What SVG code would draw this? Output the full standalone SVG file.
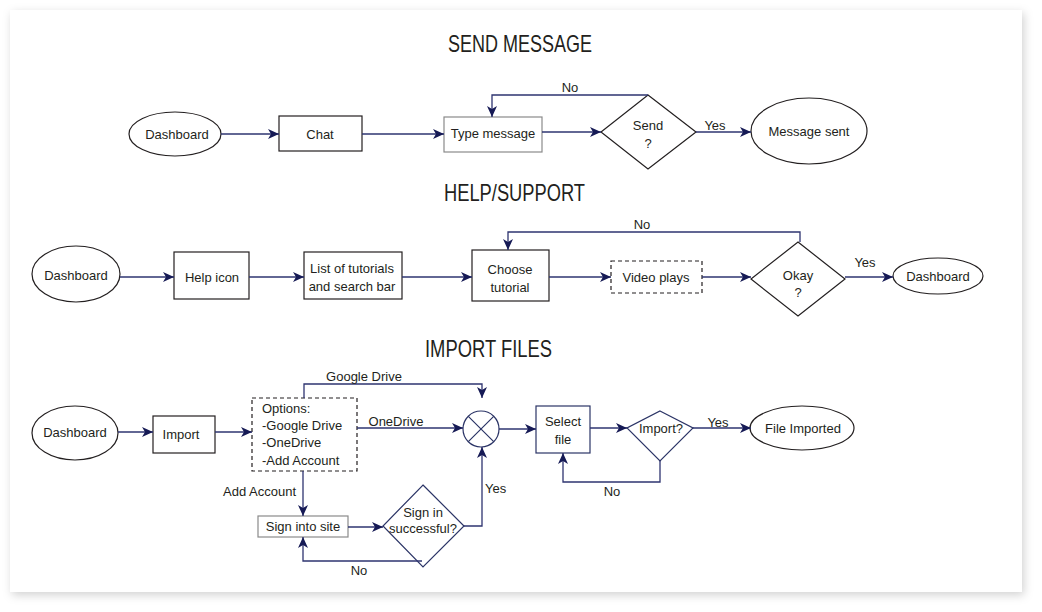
<svg xmlns="http://www.w3.org/2000/svg" width="1042" height="612" viewBox="0 0 1042 612">
<style>
text{font-family:"Liberation Sans",Arial,sans-serif;font-size:13px;fill:#231f20;text-anchor:middle}
.title{font-size:24px}
.lft{text-anchor:start}
.rgt{text-anchor:end}
.node{fill:#fff;stroke:#231f20;stroke-width:1.2}
.gray{fill:#fff;stroke:#8a8a8a;stroke-width:1.2}
.navy{fill:#fff;stroke:#2b3466;stroke-width:1.2}
.dash{fill:#fff;stroke:#231f20;stroke-width:1.2;stroke-dasharray:4 3}
.conn path{fill:none;stroke:#2e3470;stroke-width:1.3;marker-end:url(#arr)}
.conn path.plain{marker-end:none}
</style>
<defs>
<marker id="arr" markerUnits="userSpaceOnUse" markerWidth="12" markerHeight="10" refX="11" refY="5" orient="auto">
<path d="M0,0 L11,5 L0,10 L3,5 z" fill="#161a55"/>
</marker>
<filter id="sh" x="-5%" y="-5%" width="110%" height="110%">
<feDropShadow dx="2" dy="3" stdDeviation="5" flood-color="#000" flood-opacity="0.18"/>
</filter>
</defs>
<rect x="0" y="0" width="1042" height="612" fill="#fff"/>
<rect x="10" y="10" width="1012" height="582" fill="#fff" filter="url(#sh)"/>

<text class="title" x="520" y="52" textLength="144" lengthAdjust="spacingAndGlyphs">SEND MESSAGE</text>
<text class="title" x="514.5" y="201" textLength="141" lengthAdjust="spacingAndGlyphs">HELP/SUPPORT</text>
<text class="title" x="488.5" y="357" textLength="127" lengthAdjust="spacingAndGlyphs">IMPORT FILES</text>

<g id="s1-dashboard"><ellipse class="node" cx="175" cy="134" rx="46" ry="22"/><text x="177" y="139">Dashboard</text></g>
<g id="s1-chat"><rect class="node" x="279" y="116" width="83" height="35"/><text x="320" y="139">Chat</text></g>
<g id="s1-type"><rect class="gray" x="444" y="117" width="98" height="35"/><text x="493" y="138">Type message</text></g>
<g id="s1-send"><polygon class="node" points="648,95 696,132 648,169 601,132"/><text x="648" y="130">Send</text><text x="648" y="148">?</text></g>
<g id="s1-sent"><ellipse class="node" cx="809" cy="131" rx="58" ry="33"/><text x="809" y="136">Message sent</text></g>

<g id="s2-dashboard"><ellipse class="node" cx="76" cy="274" rx="44" ry="28"/><text x="76" y="280">Dashboard</text></g>
<g id="s2-help"><rect class="node" x="174" y="252" width="75" height="47"/><text x="212" y="282">Help icon</text></g>
<g id="s2-list"><rect class="node" x="304" y="252" width="98" height="47"/><text x="352" y="273">List of tutorials</text><text x="352" y="291">and search bar</text></g>
<g id="s2-choose"><rect class="node" x="472" y="250" width="77" height="51"/><text x="510" y="274">Choose</text><text x="510" y="292">tutorial</text></g>
<g id="s2-video"><rect class="dash" x="611" y="261" width="91" height="32"/><text x="656" y="282">Video plays</text></g>
<g id="s2-okay"><polygon class="node" points="798,242 845,279 798,316 751,279"/><text x="798" y="280">Okay</text><text x="798" y="297">?</text></g>
<g id="s2-dashboard2"><ellipse class="node" cx="938" cy="276" rx="45" ry="18"/><text x="938" y="281">Dashboard</text></g>

<g id="s3-dashboard"><ellipse class="node" cx="75" cy="433" rx="43" ry="27"/><text x="75" y="437">Dashboard</text></g>
<g id="s3-import"><rect class="node" x="153" y="416" width="62" height="37"/><text x="181" y="439">Import</text></g>
<g id="s3-options"><rect class="dash" x="252" y="398" width="105" height="73"/>
<text class="lft" x="262" y="413">Options:</text><text class="lft" x="262" y="430">-Google Drive</text><text class="lft" x="262" y="447">-OneDrive</text><text class="lft" x="262" y="465">-Add Account</text></g>
<g id="s3-merge"><circle class="navy" cx="481" cy="429" r="18"/><path d="M468.3,416.3 L493.7,441.7 M493.7,416.3 L468.3,441.7" stroke="#2b3466" stroke-width="1.2"/></g>
<g id="s3-select"><rect class="navy" x="536" y="406" width="54" height="47"/><text x="563" y="426">Select</text><text x="563" y="444">file</text></g>
<g id="s3-importq"><polygon class="navy" points="660,411 693,428 660,461 627,428"/><text x="661" y="433">Import?</text></g>
<g id="s3-imported"><ellipse class="node" cx="802" cy="428" rx="52" ry="22"/><text x="803" y="433">File Imported</text></g>
<g id="s3-signin"><rect class="gray" x="258" y="516" width="90" height="21"/><text x="303" y="531">Sign into site</text></g>
<g id="s3-success"><polygon class="navy" points="423,485 464,526 423,567 383,526"/><text x="423" y="517">Sign in</text><text x="423" y="533">successful?</text></g>

<g id="connectors" class="conn">
<path d="M221,134 H279"/>
<path d="M362,134 H444"/>
<path d="M542,132 H601"/>
<path d="M648,95 H492 V117"/>
<path d="M696,132 H751"/>
<path d="M120,277 H174"/>
<path d="M249,277 H304"/>
<path d="M402,277 H472"/>
<path d="M549,277 H611"/>
<path d="M702,277 H751"/>
<path d="M800,242 V232 H508 V250"/>
<path d="M845,277 H893"/>
<path d="M118,432 H153"/>
<path d="M215,432 H252"/>
<path d="M304,398 V384 H482 V398"/>
<path d="M357,428 H463"/>
<path d="M499,429 H536"/>
<path d="M590,428 H627"/>
<path d="M693,428 H751"/>
<path d="M660,461 V482 H563 V453"/>
<path d="M303,471 V516"/>
<path d="M348,527 H383"/>
<path d="M464,526 H482 V447"/>
<path d="M422,561 H303 V537"/>
</g>
<g id="labels">
<text x="570" y="92">No</text>
<text x="715" y="130">Yes</text>
<text x="642" y="229">No</text>
<text x="865" y="267">Yes</text>
<text x="364" y="381">Google Drive</text>
<text x="396" y="426">OneDrive</text>
<text class="rgt" x="296" y="496">Add Account</text>
<text class="lft" x="485" y="493">Yes</text>
<text x="359" y="575">No</text>
<text x="718" y="427">Yes</text>
<text x="612" y="496">No</text>
</g>
</svg>
